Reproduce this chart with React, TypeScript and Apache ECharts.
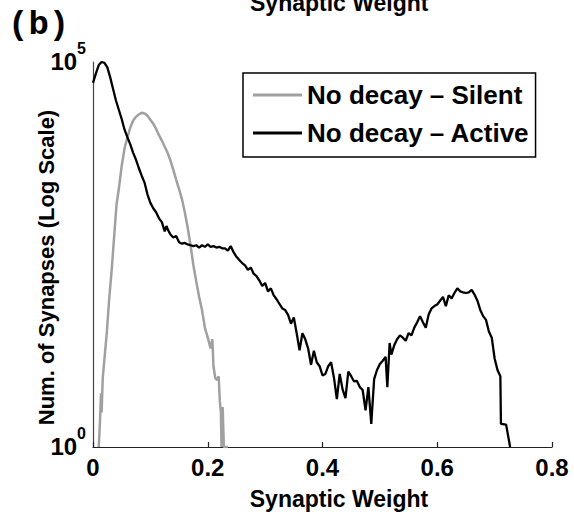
import React, { useEffect, useRef } from "react";
import * as echarts from "echarts";

const xTicks = [0, 0.2, 0.4, 0.6, 0.8];
const seriesNames = ["No decay – Silent", "No decay – Active"];

const silentW = [0.010, 0.012, 0.014, 0.015, 0.017, 0.020, 0.024, 0.028, 0.033, 0.037, 0.041, 0.045, 0.050, 0.055, 0.060, 0.065, 0.070, 0.075, 0.080, 0.085, 0.090, 0.095, 0.100, 0.105, 0.110, 0.115, 0.120, 0.125, 0.130, 0.135, 0.140, 0.145, 0.150, 0.155, 0.160, 0.165, 0.170, 0.175, 0.180, 0.185, 0.190, 0.195, 0.200, 0.205, 0.208, 0.210, 0.213, 0.216, 0.219, 0.221, 0.223, 0.224, 0.226, 0.228, 0.235];
const silentN = [1, 2.0, 5.0, 2.8, 7.9, 14.1, 30.2, 79.4, 219, 562, 1410, 2240, 4470, 7590, 10500, 14100, 17400, 19500, 20900, 21900, 21400, 20000, 17800, 15800, 13500, 11200, 9550, 7940, 6610, 5250, 3980, 2950, 2240, 1660, 1120, 708, 417, 229, 141, 89, 60, 35.5, 26.3, 19.1, 25.1, 11.2, 7.9, 7.4, 8.3, 4.0, 2.75, 1, 3.3, 1, 1];

const activeW = [0.000, 0.005, 0.010, 0.015, 0.020, 0.025, 0.030, 0.035, 0.040, 0.045, 0.050, 0.055, 0.060, 0.065, 0.070, 0.075, 0.080, 0.085, 0.090, 0.095, 0.100, 0.105, 0.110, 0.115, 0.120, 0.125, 0.128, 0.130, 0.135, 0.140, 0.145, 0.150, 0.155, 0.160, 0.165, 0.170, 0.175, 0.180, 0.185, 0.190, 0.195, 0.200, 0.205, 0.210, 0.215, 0.220, 0.225, 0.230, 0.235, 0.240, 0.245, 0.250, 0.255, 0.260, 0.265, 0.270, 0.275, 0.280, 0.285, 0.290, 0.295, 0.300, 0.305, 0.310, 0.315, 0.320, 0.325, 0.330, 0.335, 0.340, 0.345, 0.350, 0.355, 0.360, 0.365, 0.370, 0.375, 0.380, 0.385, 0.390, 0.395, 0.400, 0.405, 0.410, 0.415, 0.420, 0.425, 0.430, 0.435, 0.440, 0.445, 0.450, 0.455, 0.460, 0.465, 0.470, 0.475, 0.480, 0.485, 0.490, 0.495, 0.500, 0.505, 0.510, 0.513, 0.517, 0.520, 0.525, 0.530, 0.535, 0.540, 0.545, 0.550, 0.555, 0.560, 0.565, 0.570, 0.575, 0.580, 0.585, 0.590, 0.595, 0.600, 0.605, 0.610, 0.615, 0.620, 0.625, 0.630, 0.635, 0.640, 0.645, 0.650, 0.655, 0.660, 0.665, 0.670, 0.675, 0.680, 0.685, 0.690, 0.695, 0.700, 0.705, 0.710, 0.711, 0.720, 0.727];
const activeN = [53700, 70800, 91200, 100000, 97700, 85100, 63100, 44700, 31600, 24000, 18200, 13200, 10500, 8510, 6610, 5370, 4170, 3310, 2690, 1900, 1480, 1260, 1120, 933, 832, 631, 741, 676, 575, 525, 550, 457, 437, 447, 427, 417, 407, 417, 389, 417, 398, 427, 398, 407, 389, 398, 380, 380, 355, 407, 339, 295, 269, 245, 229, 200, 214, 178, 166, 145, 123, 135, 105, 115, 93, 83, 72, 63, 60, 52, 40, 48, 30, 18, 30, 25, 19, 11.7, 17.8, 12.6, 11.2, 8.5, 8.9, 11.2, 12.6, 7.9, 4.2, 8.9, 5.6, 4.3, 9.5, 8.3, 7.1, 7.2, 6.0, 5.5, 3.0, 6.0, 2.0, 7.6, 10, 12, 13.2, 14.8, 6.0, 22.4, 15.8, 20.9, 25.1, 28.2, 26.3, 24, 30.2, 28.2, 35.5, 41.7, 50.1, 41.7, 35.5, 52.5, 63.1, 67.6, 70.8, 79.4, 89.1, 67.6, 93.3, 85.1, 100, 115, 105, 102, 100, 102, 110, 95.5, 79.4, 60.3, 50.1, 44.7, 31.6, 26.3, 14.1, 10, 8.3, 2.0, 1.95, 1];

const FONT = "'Liberation Sans', Arial, Helvetica, sans-serif";

export default function App() {
  const ref = useRef<HTMLDivElement>(null);
  useEffect(() => {
    if (!ref.current) return;
    const chart = echarts.init(ref.current, null, { renderer: "svg" });
    const supLabel = (v: number) => {
      if (Math.abs(v - 1) < 1e-9) return "{b|10}{s|0}";
      if (Math.abs(v - 100000) < 1e-3) return "{b|10}{s|5}";
      return "";
    };
    chart.setOption({
      animation: false,
      backgroundColor: "#ffffff",
      grid: { left: 93, right: 22, top: 62, bottom: 70, containLabel: false },
      legend: {
        data: seriesNames,
        orient: "vertical",
        left: 243,
        top: 73,
        padding: [9, 6, 11, 10],
        itemGap: 12,
        itemWidth: 49,
        itemHeight: 3,
        icon: "rect",
        borderColor: "#000",
        borderWidth: 1.5,
        backgroundColor: "#fff",
        textStyle: { fontFamily: FONT, fontWeight: "bold", fontSize: 26, lineHeight: 26, color: "#000" },
      },
      xAxis: {
        type: "value",
        min: 0,
        max: 0.8,
        interval: 0.2,
        name: "Synaptic Weight",
        nameLocation: "middle",
        nameGap: 40,
        nameTextStyle: { fontFamily: FONT, fontWeight: "bold", fontSize: 23, color: "#000", padding: [0, 0, 0, 33] },
        axisLine: { show: true, lineStyle: { color: "#222", width: 1.2 } },
        axisTick: { show: true, inside: true, length: 5, lineStyle: { color: "#222", width: 1.2 } },
        axisLabel: {
          fontFamily: FONT,
          fontWeight: "bold",
          fontSize: 24,
          color: "#000",
          margin: 8,
          formatter: (v: number) => {
            const t = xTicks.find((x) => Math.abs(x - v) < 1e-9);
            return t === undefined ? "" : String(t);
          },
        },
        splitLine: { show: false },
      },
      yAxis: {
        type: "log",
        logBase: 10,
        min: 1,
        max: 100000,
        name: "Num. of Synapses (Log Scale)",
        nameLocation: "middle",
        nameGap: 36,
        nameMoveOverlap: false,
        nameRotate: 90,
        nameTextStyle: { fontFamily: FONT, fontWeight: "bold", fontSize: 22, color: "#000", padding: [0, 26, 0, 0] },
        axisLine: { show: true, lineStyle: { color: "#444", width: 1.2 } },
        axisTick: { show: false },
        splitLine: { show: false },
        axisLabel: {
          margin: 7,
          formatter: supLabel,
          rich: {
            b: { fontFamily: FONT, fontWeight: "bold", fontSize: 24, color: "#000", lineHeight: 30, verticalAlign: "bottom", padding: [0, 0, 11, 0] },
            s: { fontFamily: FONT, fontWeight: "bold", fontSize: 16, color: "#000", lineHeight: 44, verticalAlign: "top" },
          },
        },
      },
      graphic: [
        {
          type: "text",
          left: 8,
          top: 8,
          style: { text: "(b)", font: "bold 34px 'Liberation Mono', 'DejaVu Sans Mono', monospace", fill: "#000" },
        },
        {
          type: "text",
          x: 250,
          y: -9,
          style: { text: "Synaptic Weight", font: "bold 23px 'Liberation Sans', Arial, sans-serif", fill: "#000", verticalAlign: "top" },
        },
      ],
      series: [
        {
          name: seriesNames[0],
          type: "line",
          data: silentW.map((w, i) => [w, silentN[i]]),
          showSymbol: false,
          symbol: "none",
          lineStyle: { color: "#a0a0a0", width: 2.5 },
          itemStyle: { color: "#a0a0a0" },
        },
        {
          name: seriesNames[1],
          type: "line",
          data: activeW.map((w, i) => [w, activeN[i]]),
          showSymbol: false,
          symbol: "none",
          lineStyle: { color: "#000", width: 2.3 },
          itemStyle: { color: "#000" },
        },
      ],
    });
    return () => chart.dispose();
  }, []);
  return <div ref={ref} style={{ position: "fixed", left: 0, top: 0, width: 574, height: 517 }} />;
}
